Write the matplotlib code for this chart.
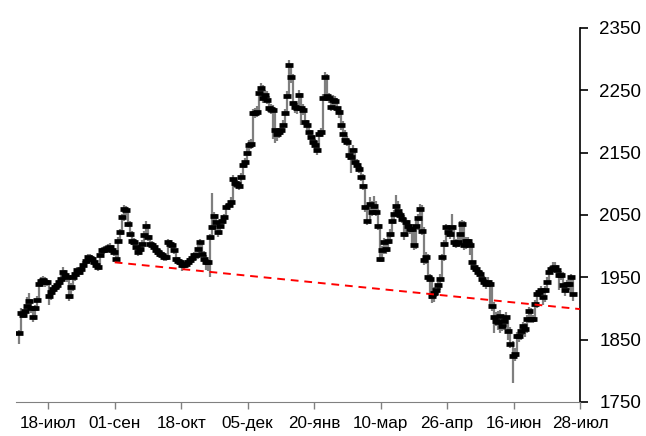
import matplotlib
matplotlib.use("Agg")
import matplotlib.pyplot as plt
import numpy as np

plt.rcParams['font.family'] = ['Liberation Sans', 'DejaVu Sans']

# дневные данные: закрытие, максимум, минимум
close = [
    1861, 1893, 1890, 1896, 1904, 1912, 1900, 1886, 1900, 1914,
    1940, 1944, 1945, 1943, 1942, 1920, 1926, 1931, 1934, 1937,
    1943, 1948, 1958, 1954, 1950, 1920, 1935, 1950, 1956, 1961,
    1958, 1963, 1969, 1976, 1982, 1981, 1980, 1974, 1970, 1966,
    1985, 1993, 1994, 1995, 1997, 1998, 1994, 1990, 1980, 2009,
    2022, 2046, 2060, 2058, 2036, 2020, 2009, 2006, 1998, 1990,
    1995, 2004, 2018, 2033, 2014, 2004, 2001, 1998, 1993, 1990,
    1988, 1985, 1983, 1982, 2006, 2003, 2001, 1993, 1980, 1976,
    1974, 1969, 1970, 1972, 1975, 1977, 1981, 1985, 1985, 1996,
    2006, 1988, 1980, 1974, 1974, 2014, 2030, 2049, 2038, 2022,
    2033, 2040, 2046, 2062, 2066, 2070, 2108, 2102, 2100, 2097,
    2111, 2130, 2135, 2150, 2162, 2164, 2213, 2214, 2215, 2245,
    2253, 2237, 2243, 2235, 2221, 2220, 2219, 2186, 2180, 2183,
    2186, 2194, 2213, 2240, 2290, 2272, 2229, 2223, 2221, 2243,
    2221, 2219, 2199, 2194, 2183, 2175, 2167, 2162, 2154, 2180,
    2183, 2237, 2272, 2240, 2237, 2223, 2235, 2233, 2221, 2215,
    2194, 2180, 2170, 2167, 2146, 2143, 2154, 2135, 2130, 2124,
    2111, 2097, 2062, 2041, 2068, 2055, 2065, 2055, 2033, 1980,
    1993, 2006, 1995, 2008, 2020, 2041, 2052, 2065, 2057, 2050,
    2044, 2020, 2038, 2033, 2028, 2028, 2001, 2033, 2045, 2060,
    2025, 1977, 1982, 1950, 1947, 1920, 1925, 1929, 1937, 1947,
    1982, 2004, 2030, 2022, 2020, 2030, 2006, 2004, 2006, 2020,
    2036, 2001, 2009, 2009, 2001, 1974, 1966, 1963, 1958, 1955,
    1947, 1943, 1939, 1942, 1939, 1904, 1886, 1880, 1878, 1888,
    1872, 1880, 1886, 1864, 1843, 1824, 1827, 1856, 1856, 1864,
    1872, 1867, 1883, 1896, 1883, 1883, 1907, 1923, 1926, 1929,
    1918, 1929, 1942, 1958, 1963, 1965, 1966, 1961, 1953, 1953,
    1937, 1929, 1939, 1939, 1951, 1923,
]
high = [
    1866, 1900, 1898, 1902, 1918, 1925, 1915, 1903, 1906, 1920,
    1946, 1950, 1952, 1950, 1948, 1944, 1932, 1937, 1940, 1944,
    1949, 1956, 1966, 1962, 1957, 1952, 1941, 1955, 1962, 1967,
    1965, 1968, 1976, 1983, 1988, 1988, 1986, 1982, 1976, 1973,
    1990, 1999, 2000, 2001, 2003, 2005, 2001, 1997, 1993, 2014,
    2027, 2052, 2066, 2064, 2060, 2040, 2024, 2013, 2010, 2002,
    2001, 2010, 2024, 2040, 2036, 2018, 2008, 2005, 2000, 1996,
    1995, 1992, 1990, 1988, 2012, 2010, 2007, 2003, 1996, 1983,
    1980, 1977, 1976, 1978, 1981, 1983, 1987, 1991, 1991, 2002,
    2012, 2008, 1992, 1986, 1980, 2020, 2085, 2055, 2052, 2040,
    2040, 2046, 2052, 2068, 2072, 2078, 2114, 2110, 2106, 2104,
    2118, 2136, 2142, 2158, 2170, 2172, 2220, 2222, 2224, 2252,
    2262, 2258, 2250, 2248, 2240, 2228, 2226, 2222, 2190, 2190,
    2193, 2202, 2220, 2248, 2298, 2292, 2276, 2232, 2230, 2250,
    2246, 2228, 2222, 2202, 2196, 2186, 2178, 2172, 2168, 2186,
    2190, 2244, 2280, 2276, 2246, 2242, 2242, 2240, 2238, 2222,
    2218, 2200, 2186, 2176, 2172, 2152, 2162, 2158, 2140, 2134,
    2128, 2116, 2100, 2066, 2078, 2072, 2080, 2072, 2060, 2036,
    2000, 2013, 2010, 2015, 2027, 2048, 2058, 2082, 2072, 2058,
    2055, 2050, 2045, 2042, 2036, 2035, 2034, 2040, 2052, 2068,
    2066, 2030, 1990, 1988, 1956, 1952, 1934, 1932, 1942, 1955,
    1988, 2010, 2036, 2034, 2028, 2052, 2034, 2012, 2014, 2040,
    2042, 2040, 2015, 2015, 2012, 2006, 1974, 1970, 1966, 1962,
    1960, 1952, 1948, 1950, 1946, 1942, 1910, 1894, 1896, 1897,
    1890, 1888, 1894, 1888, 1870, 1848, 1836, 1862, 1864, 1870,
    1878, 1876, 1890, 1902, 1900, 1890, 1914, 1930, 1932, 1936,
    1932, 1936, 1950, 1964, 1970, 1974, 1974, 1970, 1964, 1960,
    1958, 1940, 1945, 1946, 1956, 1952,
]
low = [
    1843, 1858, 1884, 1885, 1892, 1900, 1893, 1878, 1881, 1896,
    1910, 1934, 1938, 1935, 1936, 1906, 1914, 1921, 1926, 1929,
    1931, 1938, 1944, 1946, 1942, 1912, 1915, 1928, 1944, 1950,
    1951, 1954, 1960, 1966, 1972, 1974, 1973, 1968, 1963, 1960,
    1962, 1982, 1987, 1989, 1990, 1991, 1988, 1984, 1974, 1976,
    2005, 2018, 2040, 2050, 2030, 2014, 2002, 2000, 1992, 1984,
    1985, 1990, 2000, 2014, 2008, 1998, 1995, 1991, 1986, 1983,
    1982, 1979, 1976, 1976, 1978, 1997, 1995, 1987, 1973, 1969,
    1966, 1960, 1962, 1965, 1968, 1970, 1973, 1977, 1978, 1980,
    1990, 1982, 1974, 1962, 1960, 1950, 2010, 2026, 2030, 2015,
    2018, 2030, 2036, 2044, 2058, 2062, 2068, 2094, 2093, 2090,
    2094, 2108, 2126, 2132, 2145, 2155, 2162, 2206, 2207, 2212,
    2240, 2230, 2232, 2228, 2214, 2212, 2172, 2165, 2168, 2174,
    2178, 2185, 2192, 2210, 2238, 2262, 2220, 2214, 2212, 2218,
    2194, 2210, 2192, 2186, 2175, 2166, 2160, 2154, 2146, 2152,
    2175, 2180, 2232, 2232, 2229, 2216, 2218, 2225, 2214, 2206,
    2186, 2172, 2163, 2160, 2138, 2118, 2138, 2128, 2122, 2117,
    2104, 2090, 2055, 2034, 2036, 2048, 2050, 2048, 2026, 1974,
    1974, 1988, 1988, 1990, 2003, 2014, 2036, 2046, 2050, 2042,
    2037, 2010, 2014, 2026, 2020, 2000, 1994, 1996, 2026, 2040,
    2018, 1970, 1972, 1944, 1915, 1908, 1910, 1918, 1922, 1930,
    1945, 1976, 1998, 2014, 2012, 2015, 1999, 1997, 1998, 2000,
    1998, 1994, 1995, 2002, 1986, 1967, 1959, 1956, 1951, 1948,
    1940, 1936, 1932, 1934, 1900, 1896, 1860, 1872, 1866, 1860,
    1864, 1866, 1870, 1850, 1836, 1780, 1815, 1822, 1846, 1850,
    1858, 1855, 1860, 1876, 1876, 1876, 1878, 1900, 1918, 1921,
    1905, 1910, 1925, 1940, 1955, 1958, 1958, 1954, 1930, 1946,
    1930, 1920, 1925, 1930, 1920, 1912,
]

tick_labels = ['18-июл', '01-сен', '18-окт', '05-дек', '20-янв',
               '10-мар', '26-апр', '16-июн', '28-июл']
tick_pos = [14.5, 47.5, 80.5, 113.5, 146.5, 179.5, 212.5, 245.5, 278.5]

# линия поддержки
trend_x = [47.5, 278.5]
trend_y = [1974, 1899]

x = np.arange(len(close))

fig = plt.figure(figsize=(6.46, 4.36), dpi=100)
ax = fig.add_axes([0.0248, 0.078, 0.8730, 0.858])

ax.vlines(x, low, high, color='#7f7f7f', linewidth=1.6, zorder=2)
ax.plot(x, close, linestyle='none', marker='_', markersize=5.5,
        markeredgewidth=3.4, color='black', zorder=3)
ax.plot(trend_x, trend_y, color='#ff0000', linewidth=1.4,
        dashes=(4, 3), zorder=4)

ax.set_xlim(-1.5, 278.5)
ax.set_ylim(1750, 2350)

ax.spines['top'].set_visible(False)
ax.spines['left'].set_visible(False)
ax.spines['bottom'].set_color('#808080')
ax.spines['right'].set_color('black')
ax.spines['right'].set_linewidth(1.2)

ax.yaxis.tick_right()
ax.set_yticks(np.arange(1750, 2351, 100))
ax.tick_params(axis='y', direction='out', length=6, width=1.2,
               color='black', labelsize=13.5, pad=8)
ax.set_xticks(tick_pos)
ax.set_xticklabels(tick_labels)
ax.tick_params(axis='x', direction='out', length=5, width=1,
               color='#808080', labelsize=12.3, pad=5)

fig.savefig('out.png', dpi=100)
